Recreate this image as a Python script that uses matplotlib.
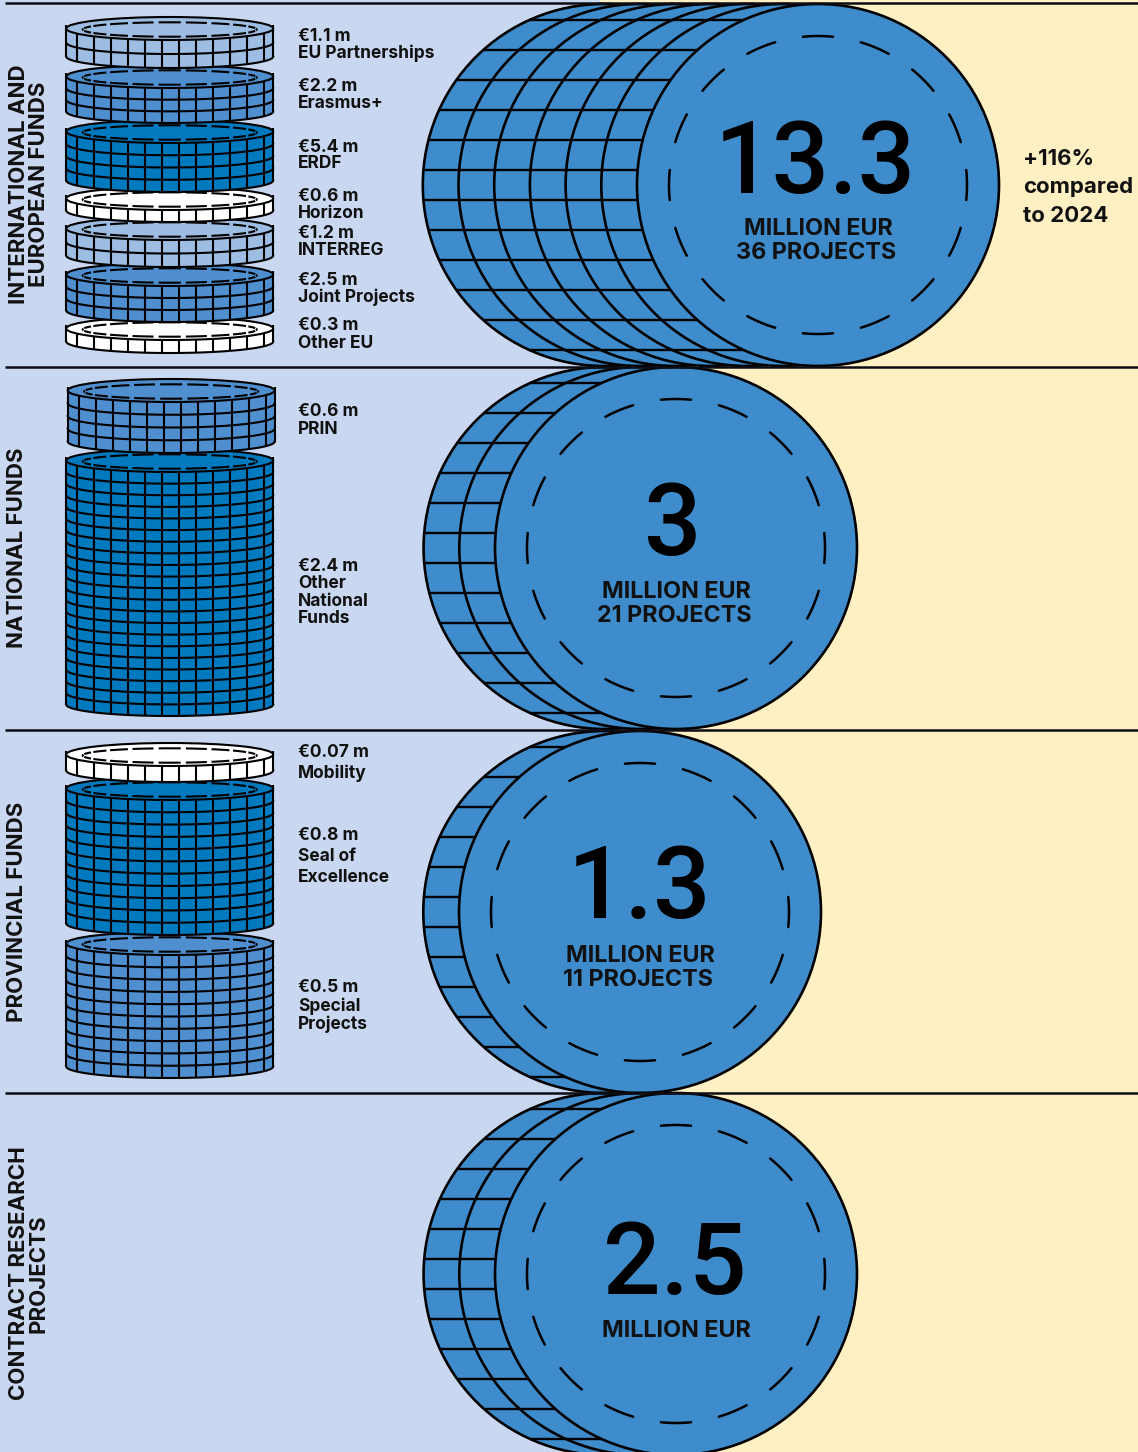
import numpy as np
import matplotlib
matplotlib.use("Agg")
import matplotlib.pyplot as plt
from matplotlib.patches import Circle, Ellipse, Rectangle

plt.rcParams['font.family'] = ['Inter', 'DejaVu Sans']

# section totals
totals = ["13.3", "3", "1.3", "2.5"]
project_labels = ["36 PROJECTS", "21 PROJECTS", "11 PROJECTS", ""]
back_coins = [6, 2, 1, 2]
coin_cx = [818, 676, 640, 676]
coin_cy = [185, 548, 912, 1274]
number_x = [815, 673, 640, 675]
number_base = [193, 555, 918, 1294]
million_base = [235, 598, 962, 1337]
section_lines = [3, 366.5, 730, 1093]

# stacks: top edge, bottom edge, tile rows, colour, centre
stack_top = [17, 65, 120, 187, 217, 263, 317, 379, 449, 743, 777, 932]
stack_bot = [68, 123, 192, 222, 267, 322, 353, 453, 716, 782, 935, 1078]
stack_rows = [2, 3, 4, 1, 2, 3, 1, 4, 21, 1, 11, 10]
stack_col = ["l", "m", "d", "w", "l", "m", "w", "m", "d", "w", "d", "m"]
stack_cx = [169.7] * 7 + [171.2, 169.7] + [169.7] * 3

label_lines = ["€1.1 m", "EU Partnerships", "€2.2 m", "Erasmus+", "€5.4 m", "ERDF",
               "€0.6 m", "Horizon", "€1.2 m", "INTERREG", "€2.5 m", "Joint Projects",
               "€0.3 m", "Other EU", "€0.6 m", "PRIN", "€2.4 m", "Other", "National",
               "Funds", "€0.07 m", "Mobility", "€0.8 m", "Seal of", "Excellence",
               "€0.5 m", "Special", "Projects"]
label_base = [41, 57.5, 91, 107.5, 152, 168, 201, 218, 238, 255, 285, 302, 330, 348,
              416, 434, 571, 588, 606, 623, 757, 778, 840, 861, 882, 992, 1011, 1029]

side_titles = ["INTERNATIONAL AND\nEUROPEAN FUNDS", "NATIONAL FUNDS", "PROVINCIAL FUNDS",
               "CONTRACT RESEARCH\nPROJECTS"]
side_x = [29, 17, 17, 29]

colors = {"l": "#9dbde3", "m": "#4f8fcf", "d": "#0079bf", "w": "#ffffff"}
big_col = "#3e8ccb"
bg_left = "#c9d8f0"
bg_right = "#fff0c4"

fig = plt.figure(figsize=(11.38, 14.52), dpi=100)
ax = fig.add_axes([0, 0, 1, 1])
ax.set_xlim(0, 1138)
ax.set_ylim(1452, 0)
ax.axis("off")

ax.add_patch(Rectangle((0, 0), 600, 1452, fc=bg_left, ec="none", zorder=0))
ax.add_patch(Rectangle((600, 0), 538, 1452, fc=bg_right, ec="none", zorder=0))

# big coins
R = 181
step = 35.7
z = 1
for s in range(4):
    n = back_coins[s]
    for i in range(n + 1):
        cx = coin_cx[s] - (n - i) * step
        cy = coin_cy[s]
        ax.add_patch(Circle((cx, cy), R, fc=big_col, ec="black", lw=1.9, zorder=z))
        z += 1
        if i < n:
            for k in range(-6, 6):
                dy = 15 + k * 30
                x0 = cx - np.sqrt(R**2 - dy**2)
                ax.plot([x0, cx], [cy + dy, cy + dy], color="black", lw=1.7,
                        zorder=z, solid_capstyle="butt")
            z += 1
    # dashed ring on the front coin
    for a in np.arange(16) * 22.5:
        t = np.radians(np.linspace(a - 5.8, a + 5.8, 20))
        ax.plot(coin_cx[s] + 149 * np.cos(t), coin_cy[s] + 149 * np.sin(t),
                color="black", lw=1.8, zorder=z, solid_capstyle="round")
    z += 1

# small stacks, bottom coin first so the upper coin sits in front
a = 103.5
b = 11.5
lw = 1.5
z = 500
for j in range(len(stack_top) - 1, -1, -1):
    cx = stack_cx[j]
    cy = stack_top[j] + b
    bot = stack_bot[j]
    fc = colors[stack_col[j]]
    t = np.linspace(0, np.pi, 80)
    xs = cx + a * np.cos(t)
    arc = b * np.sin(t)
    H = bot - b - cy
    ax.fill(np.r_[cx - a, cx + a, xs], np.r_[cy, cy, cy + H + arc], fc=fc, ec="none", zorder=z)
    z += 1
    rh = H / stack_rows[j]
    for r in range(1, stack_rows[j] + 1):
        ax.plot(xs, cy + r * rh + arc, color="black", lw=lw, zorder=z)
    for v in range(-6, 6):
        x = cx + 9.5 + v * 17
        yfront = b * np.sqrt(1 - ((x - cx) / a) ** 2)
        ax.plot([x, x], [cy + yfront, cy + H + yfront], color="black", lw=lw, zorder=z,
                solid_capstyle="butt")
    for x in [cx - a, cx + a]:
        ax.plot([x, x], [cy - 4, cy + H], color="black", lw=lw, zorder=z, solid_capstyle="butt")
    ax.add_patch(Ellipse((cx, cy), 2 * a, 2 * b, fc=fc, ec="black", lw=lw, zorder=z))
    for d in np.arange(20) * 18:
        t = np.radians(np.linspace(d - 7.3, d + 7.3, 12))
        ax.plot(cx + 87 * np.cos(t), cy + 1 + 7.2 * np.sin(t), color="black", lw=1.5,
                zorder=z, solid_capstyle="butt")
    z += 1

# section rules
for y in section_lines:
    ax.plot([5, 1138], [y, y], color="#0c0c14", lw=1.8, zorder=900, solid_capstyle="butt")

# labels
for txt, y in zip(label_lines, label_base):
    ax.text(298, y, txt, fontsize=12.5, fontweight="bold", color="#111111", va="baseline", ha="left", zorder=950)

# numbers inside coins
for s in range(4):
    ax.text(number_x[s], number_base[s], totals[s], fontsize=73, family="Roboto", fontweight="medium",
            color="black", ha="center", va="baseline", zorder=950)
    ax.text(coin_cx[s], million_base[s], "MILLION EUR", fontsize=16.8, fontweight="bold",
            color="#111111", ha="center", va="baseline", zorder=950)
    if project_labels[s]:
        ax.text(coin_cx[s] - 2, million_base[s] + 24, project_labels[s], fontsize=16.8,
                fontweight="bold", color="#111111", ha="center", va="baseline", zorder=950)

for s in range(4):
    ax.text(side_x[s], coin_cy[s] - 0.5, side_titles[s], rotation=90, fontsize=16, fontweight="bold",
            color="#111111", ha="center", va="center", ma="center", linespacing=0.98, zorder=950)

ax.text(1023, 165, "+116%", fontsize=16, fontweight="bold", color="#111111", zorder=950)
ax.text(1023, 193, "compared", fontsize=16, fontweight="bold", color="#111111", zorder=950)
ax.text(1023, 222.5, "to 2024", fontsize=16, fontweight="bold", color="#111111", zorder=950)

fig.savefig("out.png", dpi=100)
